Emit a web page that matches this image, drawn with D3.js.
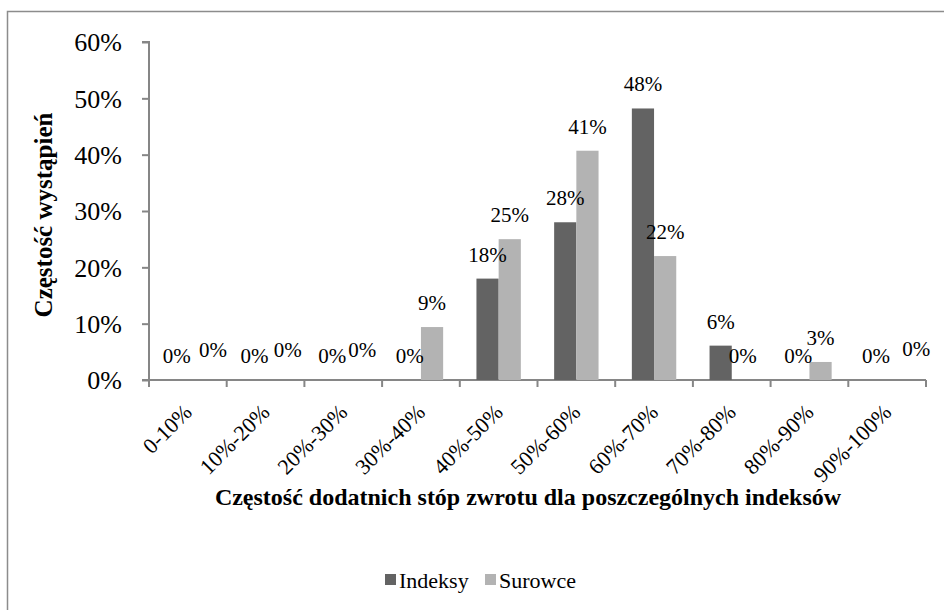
<!DOCTYPE html>
<html>
<head>
<meta charset="utf-8">
<script src="https://cdn.jsdelivr.net/npm/d3@7"></script>
<style>
  body { margin: 0; background: #fff; }
  svg { display: block; }
  text { font-family: "Liberation Serif", "Times New Roman", serif; fill: #000; }
</style>
</head>
<body>
<svg id="chart" width="944" height="610"></svg>
<script>
// Share of periods with positive returns, grouped into 10-point buckets
const categories = ["0-10%", "10%-20%", "20%-30%", "30%-40%", "40%-50%",
                    "50%-60%", "60%-70%", "70%-80%", "80%-90%", "90%-100%"];
const seriesNames = ["Indeksy", "Surowce"];
const indeksy = [0, 0, 0, 0, 0.18, 0.28, 0.482, 0.061, 0, 0];
const surowce = [0, 0, 0, 0.094, 0.25, 0.407, 0.22, 0, 0.032, 0];
const yTicks = [0, 0.1, 0.2, 0.3, 0.4, 0.5, 0.6];

const yTitle = "Częstość wystąpień";
const xTitle = "Częstość dodatnich stóp zwrotu dla poszczególnych indeksów";

const colors = { Indeksy: "#636363", Surowce: "#b3b3b3" };
const axisColor = "#868686";
const serif = "Liberation Serif, Times New Roman, serif";

// A few zero labels sit nudged off their bars so neighbours don't collide
const labelNudge = {
  "Surowce|0-10%": [14, -6],
  "Surowce|10%-20%": [11, -6],
  "Surowce|20%-30%": [8, -6],
  "Surowce|90%-100%": [18, -7]
};

const svg = d3.select("#chart");
const plot = { left: 149, right: 926, top: 42, bottom: 380 };

// Outer chart frame
svg.append("rect")
  .attr("x", 7.5).attr("y", 11.5)
  .attr("width", 960).attr("height", 640)
  .attr("fill", "none").attr("stroke", "#8c8c8c").attr("stroke-width", 1.5);

const x = d3.scaleBand().domain(categories).range([plot.left, plot.right]).paddingInner(0).paddingOuter(0);
const xInner = d3.scaleBand().domain(seriesNames)
  .range([0, x.bandwidth()]).paddingInner(0).paddingOuter(0.75);
const y = d3.scaleLinear().domain([0, 0.6]).range([plot.bottom, plot.top]);

const pct = d3.format(".0%");

// Y axis
const yAxis = svg.append("g")
  .attr("transform", `translate(${plot.left},0)`)
  .call(d3.axisLeft(y).tickValues(yTicks).tickFormat(pct).tickSize(7).tickPadding(20));
yAxis.attr("font-family", serif);
yAxis.select(".domain").attr("stroke", axisColor).attr("stroke-width", 2)
  .attr("d", `M-7,${plot.top}H0V${plot.bottom}`);
yAxis.selectAll(".tick line").attr("stroke", axisColor).attr("stroke-width", 2);
yAxis.selectAll(".tick text")
  .attr("font-family", serif).attr("font-size", 26).attr("fill", "#000")
  .attr("dy", "0.34em");

// X axis with boundary ticks between the buckets
const xAxisG = svg.append("g").attr("transform", `translate(0,${plot.bottom})`);
xAxisG.append("line")
  .attr("x1", plot.left - 7).attr("x2", plot.right)
  .attr("stroke", axisColor).attr("stroke-width", 2);
const bounds = categories.map(c => x(c)).concat([plot.right]);
xAxisG.selectAll("line.tick").data(bounds).join("line")
  .attr("class", "tick")
  .attr("x1", d => d).attr("x2", d => d).attr("y1", 0).attr("y2", 7)
  .attr("stroke", axisColor).attr("stroke-width", 2);
xAxisG.selectAll("text.cat").data(categories).join("text")
  .attr("class", "cat")
  .attr("transform", d => `translate(${x(d) + x.bandwidth() / 2},${28}) rotate(-45)`)
  .attr("text-anchor", "end")
  .attr("dy", "0.35em")
  .attr("font-family", serif)
  .attr("font-size", 22)
  .text(d => d);

// Bars
const rows = categories.map((c, i) => ({ cat: c, values: [
  { key: "Indeksy", value: indeksy[i] },
  { key: "Surowce", value: surowce[i] }
]}));

const groups = svg.append("g").selectAll("g").data(rows).join("g")
  .attr("transform", d => `translate(${x(d.cat)},0)`);

groups.selectAll("rect").data(d => d.values).join("rect")
  .attr("x", d => xInner(d.key))
  .attr("width", xInner.bandwidth())
  .attr("y", d => y(d.value))
  .attr("height", d => y(0) - y(d.value))
  .attr("fill", d => colors[d.key]);

// Value labels above the bars
groups.selectAll("text").data(d => d.values.map(v => ({ ...v, cat: d.cat }))).join("text")
  .attr("x", d => xInner(d.key) + xInner.bandwidth() / 2 + (labelNudge[d.key + "|" + d.cat] || [0, 0])[0])
  .attr("y", d => y(d.value) - 17 + (labelNudge[d.key + "|" + d.cat] || [0, 0])[1])
  .attr("text-anchor", "middle")
  .attr("font-family", serif)
  .attr("font-size", 21)
  .text(d => pct(d.value));

// Axis titles
svg.append("text")
  .attr("transform", `translate(52,215) rotate(-90)`)
  .attr("text-anchor", "middle")
  .attr("font-family", serif)
  .attr("font-weight", "bold")
  .attr("font-size", 25)
  .text(yTitle);

svg.append("text")
  .attr("x", 528).attr("y", 505)
  .attr("text-anchor", "middle")
  .attr("font-family", serif)
  .attr("font-weight", "bold")
  .attr("font-size", 24)
  .text(xTitle);

// Legend
const legend = svg.append("g").attr("transform", "translate(385,580)");
const legendItems = legend.selectAll("g").data(seriesNames).join("g")
  .attr("transform", (d, i) => `translate(${i * 100},0)`);
legendItems.append("rect")
  .attr("x", 0).attr("y", -6).attr("width", 11).attr("height", 11)
  .attr("fill", d => colors[d]);
legendItems.append("text")
  .attr("x", 14).attr("y", 0).attr("dy", "0.35em")
  .attr("font-family", serif)
  .attr("font-size", 22)
  .text(d => d);
</script>
</body>
</html>
